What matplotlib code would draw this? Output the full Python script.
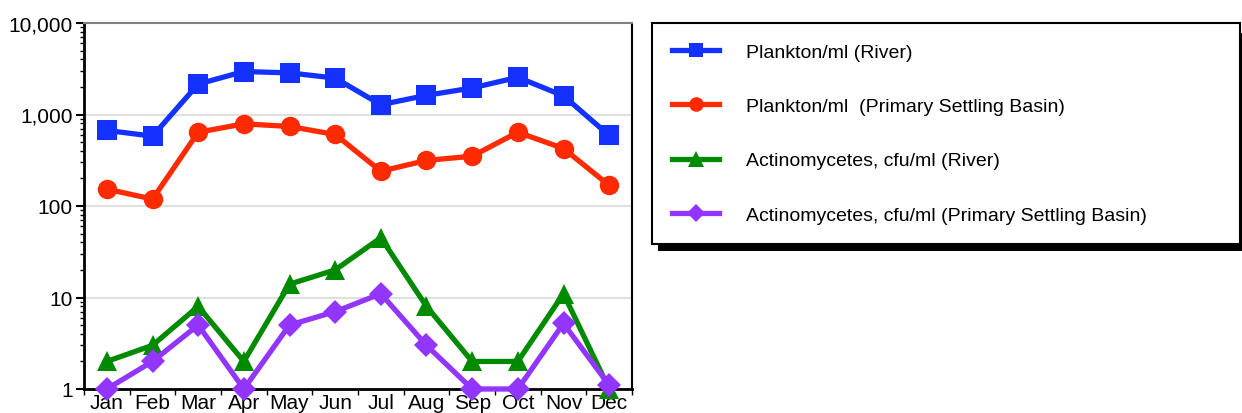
import matplotlib
matplotlib.use("Agg")
import matplotlib.pyplot as plt
from matplotlib.ticker import FuncFormatter, FixedLocator, LogLocator, NullFormatter
from matplotlib.patches import Rectangle

plt.rcParams['font.family'] = ['Liberation Sans', 'DejaVu Sans']

months = ["Jan", "Feb", "Mar", "Apr", "May", "Jun",
          "Jul", "Aug", "Sep", "Oct", "Nov", "Dec"]

plankton_river = [670, 580, 2150, 2950, 2850, 2500, 1280, 1620, 1950, 2550, 1600, 590]
plankton_basin = [153, 119, 640, 790, 740, 605, 240, 315, 350, 640, 425, 168]
actino_river = [2, 3, 8, 2, 14, 20, 45, 8, 2, 2, 11, 1]
actino_basin = [1, 2, 5, 1, 5, 7, 11, 3, 1, 1, 5.2, 1.1]

labels = ["Plankton/ml (River)",
          "Plankton/ml  (Primary Settling Basin)",
          "Actinomycetes, cfu/ml (River)",
          "Actinomycetes, cfu/ml (Primary Settling Basin)"]

fig = plt.figure(figsize=(12.42, 4.14), dpi=100)
ax = fig.add_axes([84 / 1242, 24 / 414, 548 / 1242, 366 / 414])

x = list(range(len(months)))
series = [
    (plankton_river, "#1432ff", "s", 14),
    (plankton_basin, "#ff2a00", "o", 14),
    (actino_river, "#008a00", "^", 15),
    (actino_basin, "#9236ff", "D", 12),
]
handles = []
for (vals, col, mk, ms), lab in zip(series, labels):
    h, = ax.plot(x, vals, color=col, lw=3.8, marker=mk, markersize=ms,
                 markeredgewidth=0, label=lab, clip_on=False, zorder=3)
    handles.append(h)

ax.set_yscale("log")
ax.set_ylim(1, 10000)
ax.set_xlim(-0.5, 11.5)
ax.yaxis.set_major_locator(FixedLocator([1, 10, 100, 1000, 10000]))
ax.yaxis.set_minor_locator(LogLocator(base=10, subs=range(2, 10)))
ax.yaxis.set_minor_formatter(NullFormatter())
ax.yaxis.set_major_formatter(FuncFormatter(lambda v, p: f"{int(round(v)):,}"))
ax.grid(axis="y", which="major", color="#d9d9d9", lw=1.2, zorder=0)

ax.set_xticks(x)
ax.set_xticklabels(months)
ax.set_xticks([i + 0.5 for i in range(-1, 12)], minor=True)
ax.tick_params(axis="x", which="major", length=0, pad=3, labelsize=15)
ax.tick_params(axis="x", which="minor", length=4, width=1, direction="out")
ax.tick_params(axis="y", which="major", length=6, width=1.5, labelsize=15, pad=2)
ax.tick_params(axis="y", which="minor", length=3, width=1)

for side in ["left", "bottom"]:
    ax.spines[side].set_linewidth(2)
ax.spines["right"].set_linewidth(1.5)
ax.spines["top"].set_color("#808080")
ax.spines["top"].set_linewidth(1.5)

# legend box with a solid drop shadow underneath
lx0, ly0, lx1, ly1 = 652, 172, 1240, 390
fig.patches.append(Rectangle(((lx0 + 6) / 1242, (ly0 - 10) / 414),
                             (lx1 - lx0) / 1242, (ly1 - ly0) / 414,
                             transform=fig.transFigure, facecolor="black",
                             edgecolor="none", zorder=1))
leg = fig.legend(handles=handles, loc="upper left",
                 bbox_to_anchor=(lx0 / 1242, ly0 / 414, (lx1 - lx0) / 1242, (ly1 - ly0) / 414),
                 mode="expand", fontsize=14, frameon=True, fancybox=False,
                 facecolor="white", framealpha=1,
                 edgecolor="black", handlelength=2.4, handletextpad=1.4,
                 labelspacing=1.88, borderpad=1.05, borderaxespad=0, markerscale=0.75)
leg.get_frame().set_linewidth(1.5)
leg.set_zorder(2)

fig.savefig("out.png", dpi=100)
